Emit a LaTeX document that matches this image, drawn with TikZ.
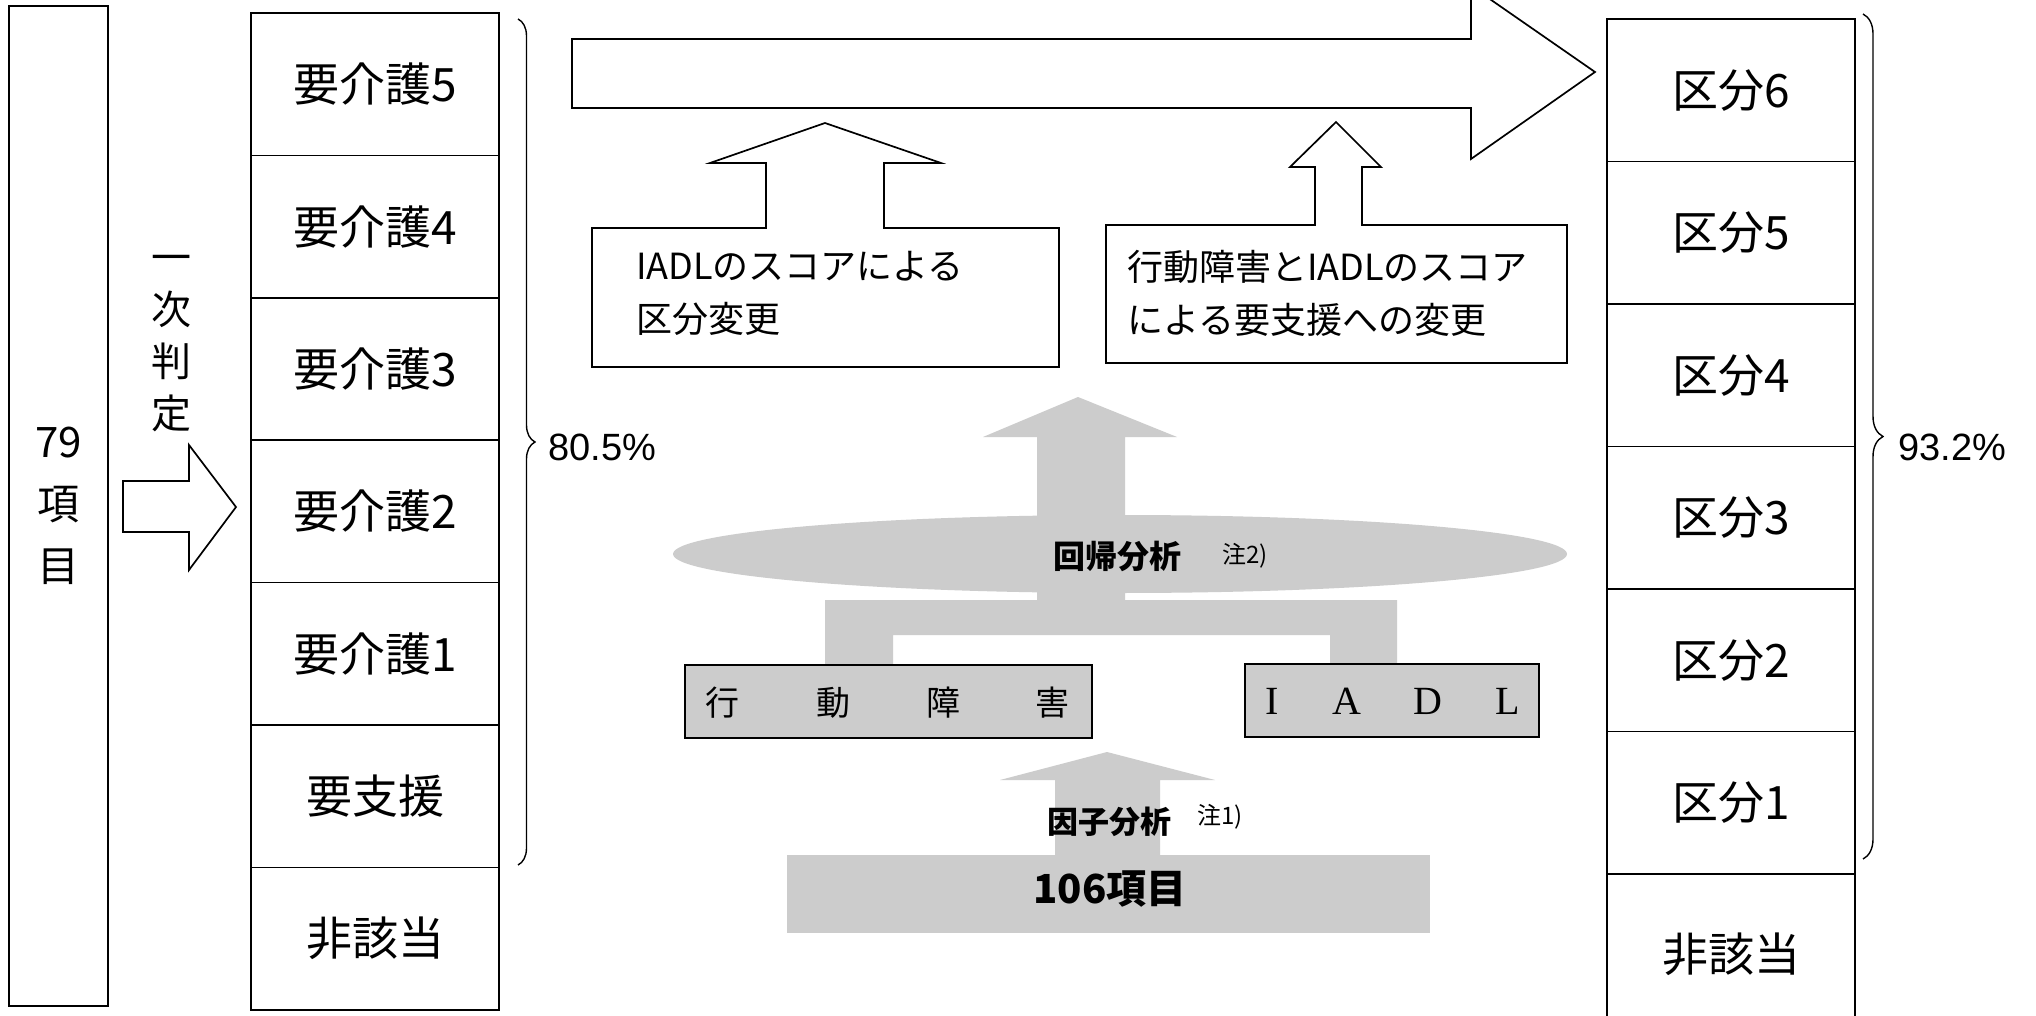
\documentclass[tikz,border=0pt]{standalone}
\usepackage{fontspec}
\setmainfont{Liberation Sans}
\newfontfamily\jp{Noto Sans CJK JP}
\newfontfamily\serifL{Liberation Serif}
\usetikzlibrary{decorations.pathreplacing}
\definecolor{halftone}{gray}{0.80}
\tikzset{
  frame/.style={draw=black, line width=1.7pt},
  cell/.style={frame, minimum width=248pt, minimum height=142.4pt, inner sep=0pt,
    font=\jp\fontsize{46}{50}\selectfont},
  callout/.style={frame, fill=white, line join=miter},
  grayshape/.style={fill=halftone, draw=none},
  graybox/.style={frame, fill=halftone},
  calltext/.style={anchor=west, align=left, inner sep=0pt, font=\jp\fontsize{36}{53}\selectfont},
  boldlabel/.style={anchor=west, inner sep=0pt, font=\jp\bfseries\fontsize{32}{36}\selectfont},
  notelabel/.style={anchor=west, inner sep=0pt, font=\jp\fontsize{24}{28}\selectfont},
  pct/.style={anchor=west, inner sep=0pt, font=\fontsize{38}{42}\selectfont},
  bracestyle/.style={draw=black, line width=1.4pt, decorate},
}
\begin{document}
\begin{tikzpicture}[x=1pt,y=-1pt]
\useasboundingbox (0,0) rectangle (2036,1016);
\clip (0,0) rectangle (2036,1016);
\fill[white] (0,0) rectangle (2036,1016);

% ---- left: 79 items
\node[frame, minimum width=99pt, minimum height=1000pt, inner sep=0pt] (items79) at (58.5,506) {};
\node[align=center, inner sep=0pt, font=\jp\fontsize{42}{62}\selectfont] (items79text) at (items79.center) {79\\項\\目};

% ---- first judgement label and arrow
\node[align=center, inner sep=0pt, font=\jp\fontsize{40}{52}\selectfont] (judge1) at (171,344) {一\\次\\判\\定};
\draw[frame, fill=white, line join=miter] (123,481) -- (189,481) -- (189,445) -- (236,507) -- (189,570) -- (189,532) -- (123,532) -- cycle;

% ---- middle column
\node[cell] (m0) at (375,84.2) {要介護5};
\node[cell] (m1) at (375,226.6) {要介護4};
\node[cell] (m2) at (375,369.0) {要介護3};
\node[cell] (m3) at (375,511.4) {要介護2};
\node[cell] (m4) at (375,653.8) {要介護1};
\node[cell] (m5) at (375,796.2) {要支援};
\node[cell] (m6) at (375,938.6) {非該当};

\draw[bracestyle, decoration={brace, amplitude=17pt}] (518,19) -- (518,865);
\node[pct] (pctleft) at (548,447) {80.5\%};

% ---- right column
\node[cell] (r0) at (1731,90.25) {区分6};
\node[cell] (r1) at (1731,232.75) {区分5};
\node[cell] (r2) at (1731,375.25) {区分4};
\node[cell] (r3) at (1731,517.75) {区分3};
\node[cell] (r4) at (1731,660.25) {区分2};
\node[cell] (r5) at (1731,802.75) {区分1};
\node[cell, minimum height=160pt] (r6) at (1731,954) {非該当};

\draw[bracestyle, decoration={brace, amplitude=20pt}] (1863,14) -- (1863,859);
\node[pct] (pctright) at (1898,447) {93.2\%};

% ---- big top arrow
\draw[frame, fill=white, line join=miter] (572,39) -- (1471,39) -- (1471,-14) -- (1595,72) -- (1471,159) -- (1471,108) -- (572,108) -- cycle;

% ---- callouts
\draw[callout] (592,228) -- (766,228) -- (766,163) -- (710,163) -- (825,123) -- (941,163) -- (884,163) -- (884,228) -- (1059,228) -- (1059,367) -- (592,367) -- cycle;
\node[calltext] (call1) at (636,293) {IADLのスコアによる\\区分変更};

\draw[callout] (1106,225) -- (1315,225) -- (1315,167) -- (1290,167) -- (1336,122) -- (1381,167) -- (1362,167) -- (1362,225) -- (1567,225) -- (1567,363) -- (1106,363) -- cycle;
\node[calltext] (call2) at (1127,293) {行動障害とIADLのスコア\\による要支援への変更};

% ---- gray analysis shapes
\fill[grayshape] (825,665) -- (825,600) -- (1037,600) -- (1037,437) -- (983,437) -- (1078,397) -- (1177,437) -- (1125,437) -- (1125,600) -- (1397,600) -- (1397,665) -- (1330,665) -- (1330,635) -- (893,635) -- (893,665) -- cycle;
\fill[grayshape] (1120,554) ellipse [x radius=447, y radius=39];
\node[boldlabel] (regress) at (1053,556) {回帰分析};
\node[notelabel] (note2) at (1222,556) {注2)};

\node[graybox, minimum width=407pt, minimum height=73pt, inner sep=0pt] (behav) at (888.5,701.5) {};
\foreach \cx/\ch in {722/行, 833/動, 943/障, 1052/害}
  \node[inner sep=0pt, font=\jp\fontsize{34}{38}\selectfont] at (\cx,703) {\ch};

\node[graybox, minimum width=294pt, minimum height=73pt, inner sep=0pt] (iadl) at (1392,700.5) {};
\foreach \cx/\ch in {1272/I, 1347/A, 1428/D, 1508/L}
  \node[inner sep=0pt, font=\serifL\fontsize{40}{44}\selectfont] at (\cx,701) {\ch};

\fill[grayshape] (1055,856) -- (1055,780) -- (1000,780) -- (1107,752) -- (1215,780) -- (1160,780) -- (1160,856) -- cycle;
\node[grayshape, minimum width=643pt, minimum height=78pt, inner sep=0pt] (items106) at (1108.5,894) {};
\node[inner sep=0pt, font=\jp\bfseries\fontsize{40}{44}\selectfont] (items106text) at (1110,889) {106項目};
\node[boldlabel, font=\jp\bfseries\fontsize{31}{35}\selectfont] (factor) at (1047,822) {因子分析};
\node[notelabel] (note1) at (1197,817) {注1)};
\end{tikzpicture}
\end{document}
